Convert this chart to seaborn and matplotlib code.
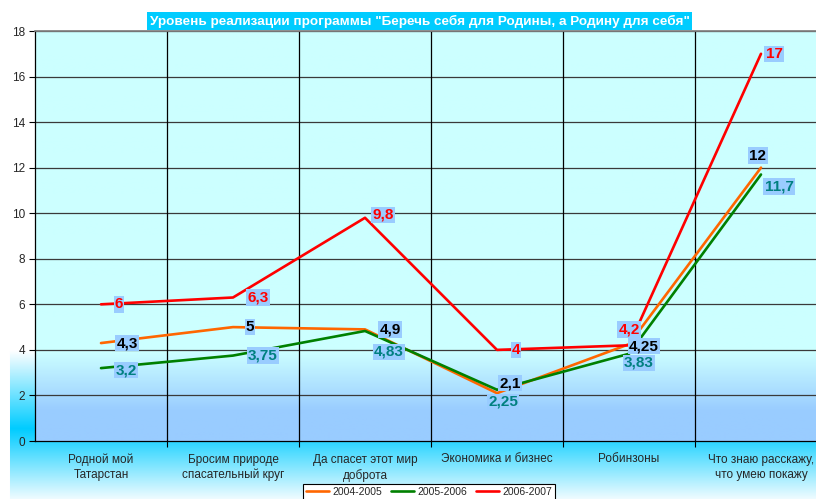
import numpy as np
import pandas as pd
import matplotlib
matplotlib.use("Agg")
import matplotlib.pyplot as plt
from matplotlib.colors import to_rgb
from matplotlib.lines import Line2D
import seaborn as sns

# data
categories = ["Родной мой\nТатарстан", "Бросим природе\nспасательный круг",
              "Да спасет этот мир\nдоброта", "Экономика и бизнес", "Робинзоны",
              "Что знаю расскажу,\nчто умею покажу"]
seasons = ["2004-2005", "2005-2006", "2006-2007"]
s_2004 = [4.3, 5, 4.9, 2.1, 4.25, 12]
s_2005 = [3.2, 3.75, 4.83, 2.25, 3.83, 11.7]
s_2006 = [6, 6.3, 9.8, 4, 4.2, 17]
title = 'Уровень реализации программы "Беречь себя для Родины, а Родину для себя"'

colors = {"2004-2005": "#FF6600", "2005-2006": "#008000", "2006-2007": "#FF0000"}
label_colors = {"2004-2005": "black", "2005-2006": "#008080", "2006-2007": "#FF0000"}
# label offsets in pixels (dx, dy) per point
offsets = {
    "2004-2005": [(26, 0), (17, 0), (25, 0), (13, 10), (15, -2), (-3, 12)],
    "2005-2006": [(25, -2), (30, 0), (24, -21), (6, -12), (10, -9), (18, -12)],
    "2006-2007": [(18, 0), (25, 0), (18, 3), (19, 0), (0, 16), (13, 0)],
}

sns.set_theme(style="white")
plt.rcParams['font.family'] = ['Liberation Sans', 'DejaVu Sans']

W, H = 816, 499
fig = plt.figure(figsize=(W / 100, H / 100), dpi=100)
fig.patch.set_facecolor("white")

# figure background gradient
bg = np.ones((H, W, 3))
cyan = np.array(to_rgb("#00CCFF"))
rows = np.arange(H)
t = np.zeros(H)
up = (rows >= 350) & (rows < 428)
t[up] = (rows[up] - 350) / 78
down = rows >= 428
t[down] = 1 - (rows[down] - 428) / 75
t = np.clip(t, 0, 1)
col = (1 - t)[:, None] * np.ones(3) + t[:, None] * cyan
bg[:, 10:, :] = col[:, None, :]
bax = fig.add_axes([0, 0, 1, 1], zorder=-5)
bax.imshow(bg, aspect="auto", extent=(0, 1, 0, 1))
bax.axis("off")

ax = fig.add_axes([35 / W, 1 - 441 / H, 792 / W, 410 / H])
ax.set_facecolor("none")

# plot area gradient
yv = np.linspace(18, 0, 400)
top_c = np.array(to_rgb("#CCFFFF"))
bot_c = np.array(to_rgb("#99CCFF"))
tt = np.clip((3.9 - yv) / 2.6, 0, 1)
pa = (1 - tt)[:, None] * top_c + tt[:, None] * bot_c
ax.imshow(np.repeat(pa[:, None, :], 2, axis=1), aspect="auto",
          extent=(-0.5, 5.5, 0, 18), zorder=0)

df = pd.DataFrame({
    "pos": list(range(6)) * 3,
    "value": s_2004 + s_2005 + s_2006,
    "season": [s for s in seasons for _ in range(6)],
})
sns.lineplot(data=df, x="pos", y="value", hue="season", palette=colors,
             linewidth=1.9, legend=False, ax=ax, sort=False, estimator=None,
             zorder=3)

for season, vals in zip(seasons, [s_2004, s_2005, s_2006]):
    for i, v in enumerate(vals):
        txt = f"{v:g}".replace(".", ",")
        dx, dy = offsets[season][i]
        ax.annotate(txt, (i, v), xytext=(dx, dy), textcoords="offset pixels",
                    ha="center", va="center", fontsize=11, fontweight="bold",
                    color=label_colors[season], zorder=6,
                    bbox=dict(facecolor="#99CCFF", edgecolor="none", pad=0.9))

ax.set_xlim(-0.5, 5.5)
ax.set_ylim(0, 18)
ax.set_yticks(range(0, 19, 2))
ax.set_xticks([0.5, 1.5, 2.5, 3.5, 4.5])
ax.set_xticklabels([])
ax.set_xticks(range(6), minor=True)
ax.set_xticklabels(categories, minor=True, fontsize=8.5, linespacing=1.35)
ax.tick_params(axis="x", which="minor", length=0, pad=9)
ax.tick_params(axis="x", which="major", length=4, width=0.8, color="black", direction="out", bottom=True)
ax.tick_params(axis="y", length=4, width=0.8, color="black", direction="out", left=True, labelsize=8.5, pad=3)
ax.set_xlabel("")
ax.set_ylabel("")

for y in range(2, 19, 2):
    ax.axhline(y, color="#3a3a3a", lw=0.9, zorder=1)
for x in [0.5, 1.5, 2.5, 3.5, 4.5]:
    ax.axvline(x, color="black", lw=0.9, zorder=1)

for side in ["left", "bottom"]:
    ax.spines[side].set_color("black")
    ax.spines[side].set_linewidth(0.9)
ax.spines["top"].set_color("#808080")
ax.spines["right"].set_visible(False)

fig.text(419.5 / W, 1 - 21 / H, title, ha="center", va="center", color="white",
         fontsize=9.7, fontweight="bold",
         bbox=dict(facecolor="#00CCFF", edgecolor="none", pad=2))

handles = [Line2D([], [], color=colors[s], lw=1.9) for s in seasons]
leg = fig.legend(handles, seasons, loc="lower center", bbox_to_anchor=(429 / W, -0.012),
                 ncol=3, fontsize=7.5, frameon=True, fancybox=False, handlelength=2.2,
                 columnspacing=0.9, handletextpad=0.3, borderpad=0.3)
leg.get_frame().set_edgecolor("black")
leg.get_frame().set_linewidth(0.8)
leg.get_frame().set_facecolor("white")
leg.get_frame().set_alpha(1)

fig.savefig("out.png", dpi=100)
